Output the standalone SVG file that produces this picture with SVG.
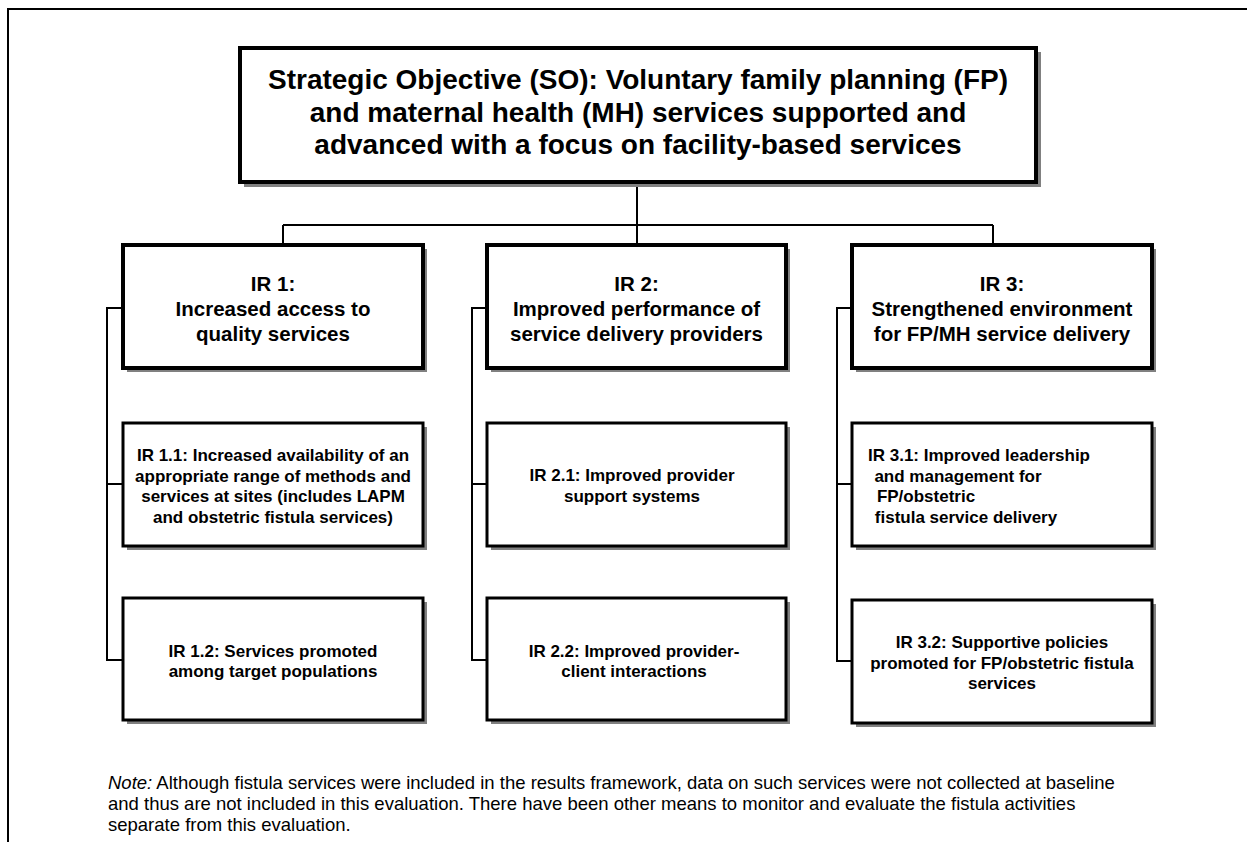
<svg xmlns="http://www.w3.org/2000/svg" width="1253" height="842" viewBox="0 0 1253 842">
  <style>
    .frame { fill: none; stroke: #000; stroke-width: 2; }
    .shadow { fill: #808080; }
    .box { fill: #fff; stroke: #000; stroke-width: 4; }
    .sub { fill: #fff; stroke: #000; stroke-width: 3; }
    .link { fill: none; stroke: #000; stroke-width: 2; }
    text { font-family: "Liberation Sans", Arial, sans-serif; fill: #000; text-anchor: middle; }
    .so { font-size: 28px; font-weight: bold; }
    .ir { font-size: 20.5px; font-weight: bold; }
    .irs { font-size: 17px; font-weight: bold; }
    .note { font-size: 18.5px; text-anchor: start; }
  </style>

  <rect width="1253" height="842" fill="#fff"/>

  <!-- page frame: top and left rules -->
  <path class="frame" d="M8 842 V9 H1247"/>

  <!-- connectors -->
  <g id="connectors">
    <path class="link" d="M637 184 V245 M283 225 H993 M283 225 V245 M993 225 V245"/>
    <path class="link" d="M123 308 H107 V660 H123 M107 484 H123"/>
    <path class="link" d="M487 308 H472 V660 H487 M472 484 H487"/>
    <path class="link" d="M852 308 H837 V661 H852 M837 484 H852"/>
  </g>

  <!-- strategic objective -->
  <g id="so">
    <rect class="shadow" x="244" y="52" width="797" height="135"/>
    <rect class="box" x="240" y="48" width="796" height="134"/>
    <text class="so" x="638" y="89">Strategic Objective (SO): Voluntary family planning (FP)</text>
    <text class="so" x="638" y="121.5">and maternal health (MH) services supported and</text>
    <text class="so" x="638" y="154">advanced with a focus on facility-based services</text>
  </g>

  <!-- IR 1 -->
  <g id="ir1">
    <rect class="shadow" x="127" y="249" width="300" height="123"/>
    <rect class="box" x="123" y="245" width="300" height="123"/>
    <text class="ir" x="273" y="291">IR 1:</text>
    <text class="ir" x="273" y="316">Increased access to</text>
    <text class="ir" x="273" y="340.5">quality services</text>
  </g>
  <g id="ir1-1">
    <rect class="shadow" x="127" y="427" width="300" height="123"/>
    <rect class="sub" x="123" y="423" width="300" height="123"/>
    <text class="irs" x="273" y="461">IR 1.1: Increased availability of an</text>
    <text class="irs" x="273" y="481.5">appropriate range of methods and</text>
    <text class="irs" x="273" y="502">services at sites (includes LAPM</text>
    <text class="irs" x="273" y="522.5">and obstetric fistula services)</text>
  </g>
  <g id="ir1-2">
    <rect class="shadow" x="127" y="602" width="300" height="122"/>
    <rect class="sub" x="123" y="598" width="300" height="122"/>
    <text class="irs" x="273" y="656.5">IR 1.2: Services promoted</text>
    <text class="irs" x="273" y="677">among target populations</text>
  </g>

  <!-- IR 2 -->
  <g id="ir2">
    <rect class="shadow" x="491" y="249" width="299" height="123"/>
    <rect class="box" x="487" y="245" width="299" height="123"/>
    <text class="ir" x="636.5" y="291">IR 2:</text>
    <text class="ir" x="636.5" y="316">Improved performance of</text>
    <text class="ir" x="636.5" y="340.5">service delivery providers</text>
  </g>
  <g id="ir2-1">
    <rect class="shadow" x="491" y="427" width="299" height="123"/>
    <rect class="sub" x="487" y="423" width="299" height="123"/>
    <text class="irs" x="632" y="481">IR 2.1: Improved provider</text>
    <text class="irs" x="632" y="501.5">support systems</text>
  </g>
  <g id="ir2-2">
    <rect class="shadow" x="491" y="602" width="299" height="122"/>
    <rect class="sub" x="487" y="598" width="299" height="122"/>
    <text class="irs" x="634" y="656.5">IR 2.2: Improved provider-</text>
    <text class="irs" x="634" y="677">client interactions</text>
  </g>

  <!-- IR 3 -->
  <g id="ir3">
    <rect class="shadow" x="856" y="249" width="300" height="123"/>
    <rect class="box" x="852" y="245" width="300" height="123"/>
    <text class="ir" x="1002" y="291">IR 3:</text>
    <text class="ir" x="1002" y="316">Strengthened environment</text>
    <text class="ir" x="1002" y="340.5">for FP/MH service delivery</text>
  </g>
  <g id="ir3-1">
    <rect class="shadow" x="856" y="427" width="300" height="123"/>
    <rect class="sub" x="852" y="423" width="300" height="123"/>
    <text class="irs" x="979" y="461">IR 3.1: Improved leadership</text>
    <text class="irs" x="958" y="481.5">and management for</text>
    <text class="irs" x="926" y="502">FP/obstetric</text>
    <text class="irs" x="966" y="522.5">fistula service delivery</text>
  </g>
  <g id="ir3-2">
    <rect class="shadow" x="856" y="604" width="300" height="123"/>
    <rect class="sub" x="852" y="600" width="300" height="123"/>
    <text class="irs" x="1002" y="648">IR 3.2: Supportive policies</text>
    <text class="irs" x="1002" y="668.5">promoted for FP/obstetric fistula</text>
    <text class="irs" x="1002" y="689">services</text>
  </g>

  <!-- note -->
  <g id="note">
    <text class="note" x="108" y="789"><tspan font-style="italic">Note:</tspan> Although fistula services were included in the results framework, data on such services were not collected at baseline</text>
    <text class="note" x="108" y="810">and thus are not included in this evaluation. There have been other means to monitor and evaluate the fistula activities</text>
    <text class="note" x="108" y="831">separate from this evaluation.</text>
  </g>
</svg>
